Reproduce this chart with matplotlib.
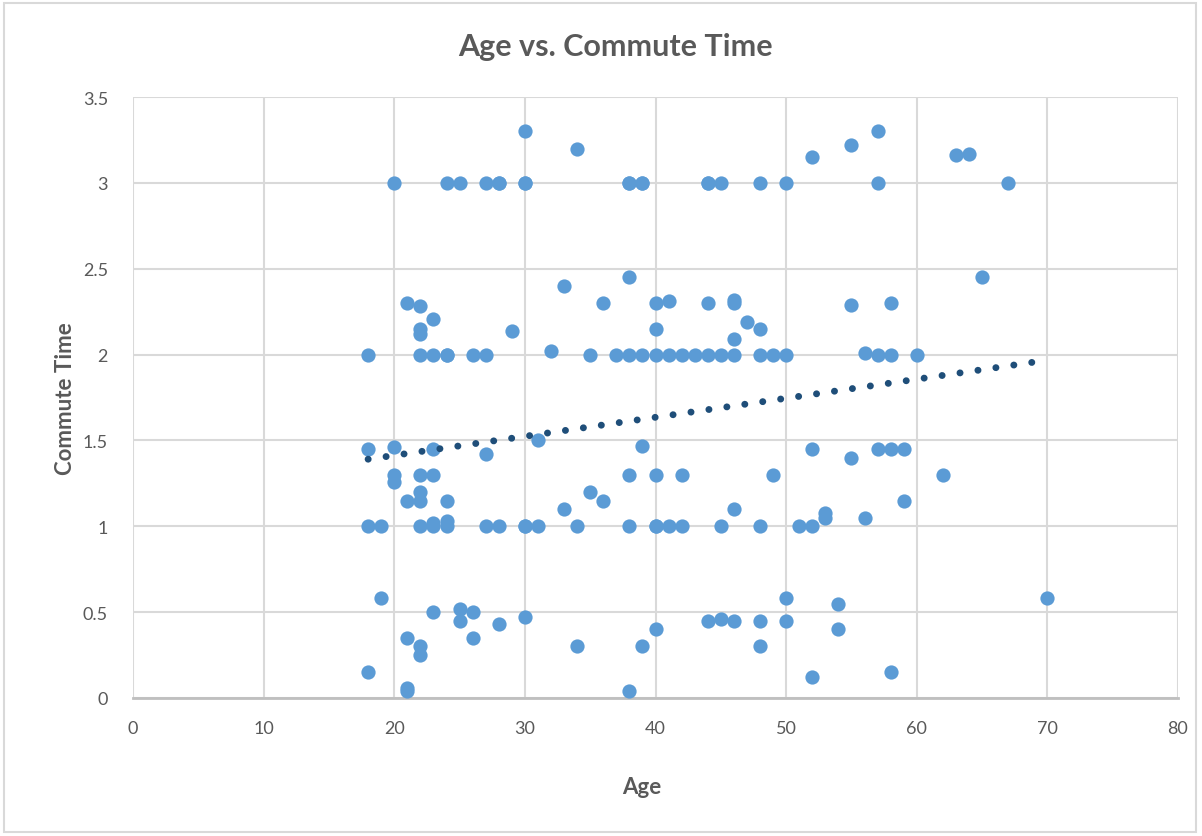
import matplotlib.pyplot as plt
import numpy as np

# data (age, commute time)
age_3 = [20, 24, 25, 27, 28, 30, 38, 39, 44, 45, 48, 50, 57, 67]
time_3 = [3.0] * len(age_3)

age_top = [30, 34, 52, 55, 57, 63, 64]
time_top = [3.3, 3.2, 3.15, 3.22, 3.3, 3.16, 3.17]

age_2x = [38, 33, 65, 21, 22, 23, 22, 22, 29, 36, 40, 41, 44, 46, 46, 47, 48, 40,
          46, 55, 58, 32, 56]
time_2x = [2.45, 2.4, 2.45, 2.3, 2.28, 2.21, 2.15, 2.12, 2.14, 2.3, 2.3, 2.31, 2.3,
           2.32, 2.3, 2.19, 2.15, 2.15, 2.09, 2.29, 2.3, 2.02, 2.01]

age_2 = [18, 22, 23, 24, 26, 27, 35, 37, 38, 39, 40, 41, 42, 43, 44, 45, 46, 48,
         49, 50, 57, 58, 60]
time_2 = [2.0] * len(age_2)

age_1x = [18, 20, 23, 27, 31, 39, 52, 55, 57, 58, 59, 20, 20, 22, 23, 38, 40, 42,
          49, 62, 22, 22, 21, 24, 33, 35, 36, 46, 53, 53, 56, 59, 24, 23]
time_1x = [1.45, 1.46, 1.45, 1.42, 1.5, 1.47, 1.45, 1.4, 1.45, 1.45, 1.45, 1.3, 1.26,
           1.3, 1.3, 1.3, 1.3, 1.3, 1.3, 1.3, 1.2, 1.15, 1.15, 1.15, 1.1, 1.2, 1.15,
           1.1, 1.08, 1.05, 1.05, 1.15, 1.03, 1.02]

age_1 = [18, 19, 22, 23, 24, 27, 28, 30, 30, 31, 34, 38, 40, 40, 41, 42, 45, 48, 51, 52]
time_1 = [1.0] * len(age_1)

age_0x = [19, 23, 25, 25, 26, 28, 30, 50, 54, 70, 44, 45, 46, 48, 50, 40, 54, 21, 22,
          22, 26, 34, 39, 48, 18, 21, 21, 38, 52, 58]
time_0x = [0.58, 0.5, 0.52, 0.45, 0.5, 0.43, 0.47, 0.58, 0.55, 0.58, 0.45, 0.46, 0.45,
           0.45, 0.45, 0.4, 0.4, 0.35, 0.3, 0.25, 0.35, 0.3, 0.3, 0.3, 0.15, 0.06,
           0.04, 0.04, 0.12, 0.15]

# repeated answers hidden under other points
age_dup = [30, 28, 38, 39, 24, 44]
time_dup = [3.0, 3.0, 3.0, 3.0, 2.0, 3.0]

age = np.array(age_3 + age_top + age_2x + age_2 + age_1x + age_1 + age_0x + age_dup,
               dtype=float)
commute = np.array(time_3 + time_top + time_2x + time_2 + time_1x + time_1 + time_0x
                   + time_dup)

plt.rcParams['font.family'] = ['Lato', 'DejaVu Sans']
grey = '#595959'

fig = plt.figure(figsize=(12.02, 8.37), dpi=100)
ax = fig.add_axes([133 / 1202, 1 - 699 / 837, (1178 - 133) / 1202, (699 - 98) / 837])

# chart border
fig.patches.append(plt.Rectangle((4 / 1202, 4 / 837), 1192 / 1202, 829 / 837,
                                 transform=fig.transFigure, fill=False,
                                 edgecolor='#d9d9d9', linewidth=1.5))

ax.scatter(age, commute, s=105, color='#5b9bd5', zorder=3, linewidths=0)

# linear trendline
m, b = np.polyfit(age, commute, 1)
xt = np.linspace(age.min(), age.max(), 100)
ax.plot(xt, m * xt + b, color='#1f4e79', linewidth=5,
        linestyle=(0, (0.01, 2.6)), dash_capstyle='round', zorder=4)

ax.set_xlim(0, 80)
ax.set_ylim(0, 3.5)
ax.set_xticks(np.arange(0, 81, 10))
ax.set_yticks(np.arange(0, 3.6, 0.5))
ax.set_yticklabels(['0', '0.5', '1', '1.5', '2', '2.5', '3', '3.5'])
ax.grid(True, color='#d9d9d9', linewidth=1.5, zorder=0)
ax.set_axisbelow(True)
for side in ['top', 'right', 'left']:
    ax.spines[side].set_visible(False)
ax.spines['bottom'].set_color('#bfbfbf')
ax.spines['bottom'].set_linewidth(2)
ax.tick_params(length=0, labelsize=13, labelcolor=grey)
ax.tick_params(axis='x', pad=16)
ax.tick_params(axis='y', pad=18)

fig.text(615 / 1202, 1 - 47 / 837, 'Age vs. Commute Time', fontsize=22,
         fontweight='bold', color=grey, ha='center', va='center')
fig.text(642 / 1202, 1 - 788 / 837, 'Age', fontsize=16, fontweight='bold',
         color=grey, ha='center', va='center')
fig.text(66 / 1202, 1 - 399 / 837, 'Commute Time', fontsize=16, fontweight='bold',
         color=grey, ha='center', va='center', rotation=90)

plt.savefig('out.png', dpi=100)
